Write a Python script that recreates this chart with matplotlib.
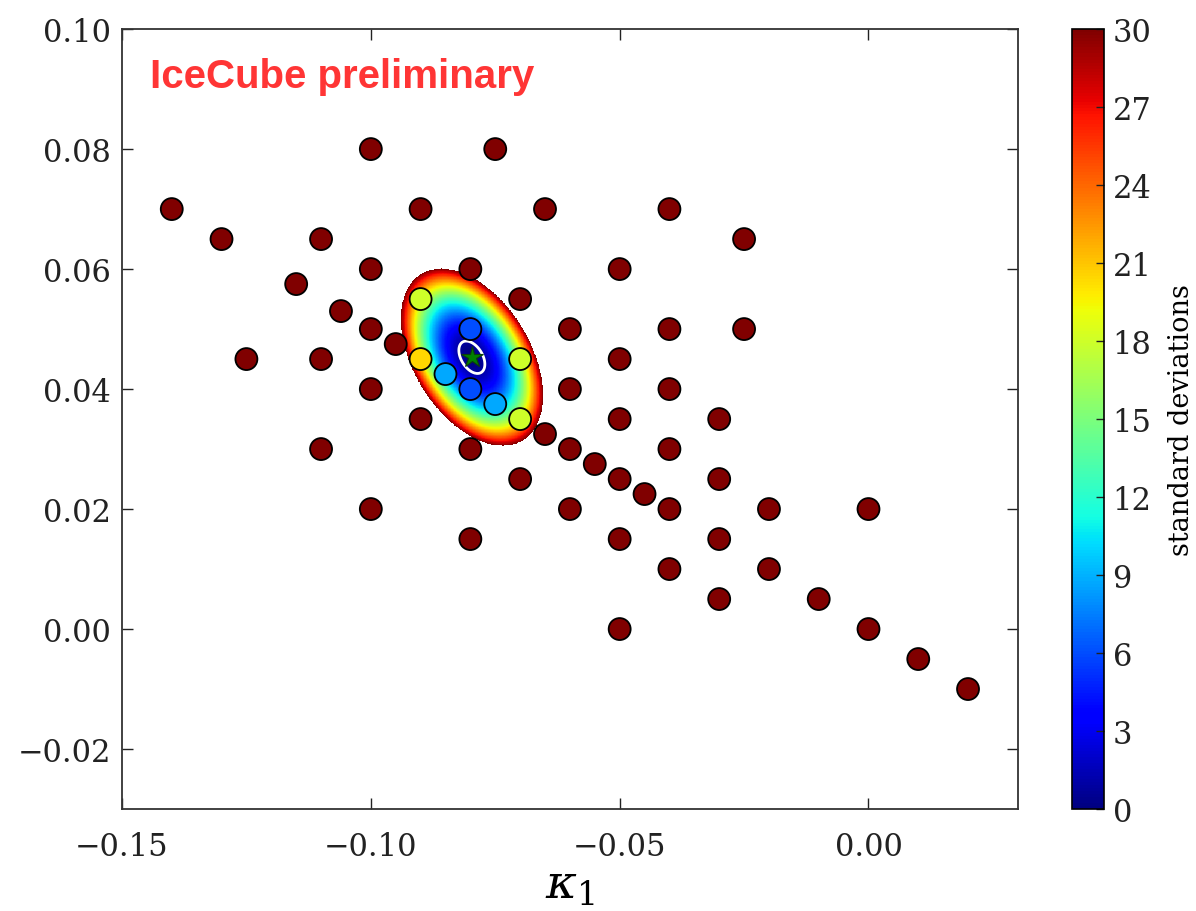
import numpy as np
import matplotlib
matplotlib.use("Agg")
import matplotlib.pyplot as plt
from matplotlib import colors as mcolors

# Grid points (kappa_1, kappa_2) and their significance in standard deviations
kappa1_pts = [
    -0.14, -0.13, -0.125, -0.115, -0.11, -0.11, -0.11, -0.106, -0.10, -0.10,
    -0.10, -0.10, -0.10, -0.095, -0.09, -0.09, -0.08, -0.08, -0.08, -0.075,
    -0.07, -0.07, -0.065, -0.065, -0.06, -0.06, -0.06, -0.06, -0.055, -0.05,
    -0.05, -0.05, -0.05, -0.05, -0.05, -0.045, -0.04, -0.04, -0.04, -0.04,
    -0.04, -0.04, -0.03, -0.03, -0.03, -0.03, -0.025, -0.025, -0.02, -0.02,
    -0.01, 0.00, 0.00, 0.01, 0.02,
    -0.09, -0.08, -0.09, -0.07, -0.085, -0.08, -0.075, -0.07,
]
kappa2_pts = [
    0.07, 0.065, 0.045, 0.0575, 0.065, 0.045, 0.03, 0.053, 0.08, 0.06,
    0.05, 0.04, 0.02, 0.0475, 0.07, 0.035, 0.06, 0.03, 0.015, 0.08,
    0.055, 0.025, 0.07, 0.0325, 0.05, 0.04, 0.03, 0.02, 0.0275, 0.06,
    0.045, 0.035, 0.025, 0.015, 0.00, 0.0225, 0.07, 0.05, 0.04, 0.03,
    0.02, 0.01, 0.035, 0.025, 0.015, 0.005, 0.065, 0.05, 0.02, 0.01,
    0.005, 0.02, 0.00, -0.005, -0.01,
    0.055, 0.05, 0.045, 0.045, 0.0425, 0.04, 0.0375, 0.035,
]
sigma_pts = [30.0] * 55 + [18.0, 6.0, 20.5, 18.0, 8.7, 6.0, 8.7, 18.0]

# Best fit and quadratic significance surface around it
best_k1, best_k2 = -0.0797, 0.0453
surf_m11, surf_m12, surf_m22 = 180150.0, 75270.0, 168750.0
sigma_max = 30.0
contour_levels = [1.0]

cbar_ticks = [0, 3, 6, 9, 12, 15, 18, 21, 24, 27, 30]
x_ticks = [-0.15, -0.10, -0.05, 0.00]
y_ticks = [-0.02, 0.00, 0.02, 0.04, 0.06, 0.08, 0.10]

serif = "DejaVu Serif"
plt.rcParams["font.family"] = serif
plt.rcParams["mathtext.fontset"] = "dejavuserif"

fig = plt.figure(figsize=(11.96, 9.12), dpi=100)
ax = fig.add_axes([0.102, 0.1118, 0.749, 0.8552])
cax = fig.add_axes([0.8963, 0.1118, 0.027, 0.8552])

cmap = plt.get_cmap("jet")
norm = mcolors.Normalize(vmin=0, vmax=sigma_max)

# significance surface, shown only below the colour scale maximum
g1 = np.linspace(-0.11, -0.05, 500)
g2 = np.linspace(0.02, 0.07, 500)
K1, K2 = np.meshgrid(g1, g2)
d1, d2 = K1 - best_k1, K2 - best_k2
surf = surf_m11 * d1**2 + 2 * surf_m12 * d1 * d2 + surf_m22 * d2**2
surf_masked = np.ma.masked_greater(surf, sigma_max)
im = ax.imshow(surf_masked, origin="lower", extent=[g1[0], g1[-1], g2[0], g2[-1]],
               cmap=cmap, norm=norm, aspect="auto", interpolation="nearest", zorder=1)
ax.contour(K1, K2, surf, levels=contour_levels, colors="white", linewidths=2.0, zorder=2)

ax.scatter(kappa1_pts, kappa2_pts, c=np.clip(sigma_pts, 0, sigma_max), cmap=cmap, norm=norm,
           s=250, edgecolors="black", linewidths=1.3, zorder=3)
ax.plot([best_k1], [best_k2], marker="*", color="green", markersize=16,
        markeredgecolor="#0b3d0b", markeredgewidth=0.8, zorder=4)

ax.set_xlim(-0.15, 0.03)
ax.set_ylim(-0.03, 0.10)
ax.set_xticks(x_ticks)
ax.set_yticks(y_ticks)
ax.set_xticklabels([f"{t:.2f}".replace("-", "\u2212") for t in x_ticks])
ax.set_yticklabels([f"{t:.2f}".replace("-", "\u2212") for t in y_ticks])
ax.tick_params(direction="in", top=True, right=True, length=8, width=1,
               labelsize=22, colors="#222222")
ax.tick_params(axis="x", pad=16)
ax.tick_params(axis="y", pad=8)
for sp in ax.spines.values():
    sp.set_linewidth(1.3)
    sp.set_color("#333333")

ax.set_xlabel(r"$\kappa_1$", fontsize=34, labelpad=0)
ax.text(0.031, 0.926, "IceCube preliminary", transform=ax.transAxes,
        fontsize=29, fontweight="bold", color="#ff3535",
        family="Liberation Sans", va="baseline", ha="left")

cb = fig.colorbar(im, cax=cax, ticks=cbar_ticks)
cb.outline.set_linewidth(1.2)
cb.ax.tick_params(direction="in", length=6, width=1, labelsize=22, pad=6, colors="#222222")
cb.set_label("standard deviations", fontsize=19.5, labelpad=12)

fig.savefig("out.png", dpi=100)
